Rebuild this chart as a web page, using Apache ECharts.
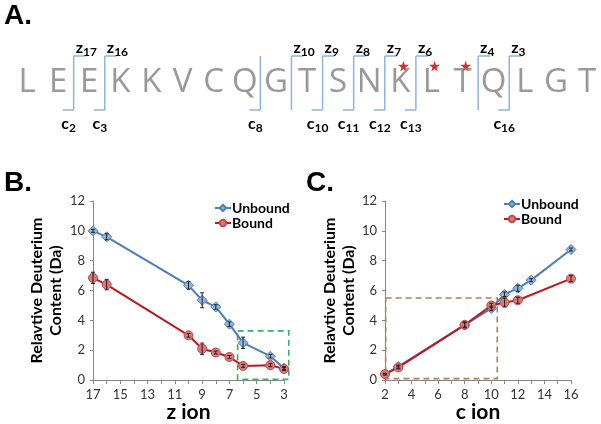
<!DOCTYPE html>
<html><head><meta charset="utf-8">
<script src="https://cdn.jsdelivr.net/npm/echarts@6/dist/echarts.min.js"></script>
<style>html,body{margin:0;padding:0;background:#fff}#c{width:601px;height:424px}</style>
</head><body><div id="c"></div>
<script>
// ---------- Panel A: peptide sequence and fragment ions ----------
const sequence = ['L','E','E','K','K','V','C','Q','G','T','S','N','K','L','T','Q','L','G','T'];
const cIons = [2,3,8,10,11,12,13,16];
const zIons = [17,16,10,9,8,7,6,4,3];
const starredResidues = [12,13,14];

// ---------- Panel B: z ions ----------
const zIonX = [17,16,10,9,8,7,6,4,3];
const zUnbound = [10.0, 9.6, 6.35, 5.35, 4.9, 3.75, 2.5, 1.6, 0.8];
const zUnboundErr = [0.1, 0.2, 0.25, 0.5, 0.15, 0.15, 0.38, 0.12, 0.1];
const zBound = [6.85, 6.4, 3.0, 2.1, 1.85, 1.55, 0.95, 1.0, 0.75];
const zBoundErr = [0.38, 0.35, 0.12, 0.38, 0.1, 0.1, 0.1, 0.1, 0.1];
const zBoxX = [6.4, 2.65];
const zBoxY = [0.05, 3.3];

// ---------- Panel C: c ions ----------
const cUnboundX = [2,3,8,10,11,12,13,16];
const cUnbound = [0.4, 0.9, 3.7, 4.8, 5.75, 6.15, 6.7, 8.75];
const cUnboundErr = [0.05, 0.1, 0.15, 0.15, 0.15, 0.2, 0.1, 0.1];
const cBoundX = [2,3,8,10,11,12,16];
const cBound = [0.4, 0.85, 3.7, 5.0, 5.2, 5.35, 6.8];
const cBoundErr = [0.05, 0.1, 0.2, 0.15, 0.3, 0.2, 0.2];
const cBoxX = [2.05, 10.45];
const cBoxY = [0.1, 5.5];

const yTicks = [0,2,4,6,8,10,12];

const FONT = 'Lato';
const BLUE = '#4a7ebb', BLUE_FILL = '#95b3d7';
const RED = '#c0161f', RED_FILL = '#d9777a', RED_EDGE = '#be4b48';

function pairs(xs, ys){ return xs.map((x,i)=>[x, ys[i]]); }

function errSeries(xs, ys, es, ai){
  return {
    type:'custom', xAxisIndex:ai, yAxisIndex:ai, z:6, silent:true, clip:false,
    data: xs.map((x,i)=>[x, ys[i], es[i]]),
    renderItem(params, api){
      const x=api.value(0), y=api.value(1), e=api.value(2);
      const t=api.coord([x,y+e]), b=api.coord([x,y-e]);
      const w=2;
      const st={stroke:'#222', lineWidth:1};
      return {type:'group', children:[
        {type:'line', shape:{x1:t[0],y1:t[1],x2:b[0],y2:b[1]}, style:st},
        {type:'line', shape:{x1:t[0]-w,y1:t[1],x2:t[0]+w,y2:t[1]}, style:st},
        {type:'line', shape:{x1:b[0]-w,y1:b[1],x2:b[0]+w,y2:b[1]}, style:st}
      ]};
    }
  };
}

function boxSeries(bx, by, color, ai){
  return {
    type:'custom', xAxisIndex:ai, yAxisIndex:ai, silent:true, clip:false, z:2,
    data:[[bx[0], by[0], bx[1], by[1]]],
    renderItem(params, api){
      const a=api.coord([api.value(0), api.value(1)]);
      const b=api.coord([api.value(2), api.value(3)]);
      const x=Math.min(a[0],b[0]), y=Math.min(a[1],b[1]);
      return {type:'rect', shape:{x:x, y:y, width:Math.abs(b[0]-a[0]), height:Math.abs(b[1]-a[1])},
        style:{fill:null, stroke:color, lineWidth:1.6, lineDash:[6,4]}};
    }
  };
}

function lineSeries(name, xs, ys, ai, kind){
  const isU = kind==='u';
  return {
    name:name, type:'line', xAxisIndex:ai, yAxisIndex:ai, z: isU?3:4,
    data: pairs(xs, ys),
    symbol: isU?'diamond':'circle', symbolSize: isU?10:9,
    lineStyle:{color: isU?BLUE:RED, width:2},
    itemStyle:{color: isU?BLUE_FILL:RED_FILL, borderColor: isU?BLUE:RED_EDGE, borderWidth:1}
  };
}

function xAxisCfg(ai, min, max, odd, name){
  return {
    type:'value', gridIndex:ai, min:min, max:max, interval:1, inverse: odd,
    name:name, nameLocation:'middle', nameGap:20,
    nameTextStyle:{fontFamily:FONT, fontWeight:'bold', fontSize:21, color:'#000'},
    axisLine:{show:true, onZero:false, lineStyle:{color:'#868686', width:1}},
    axisTick:{show:true, length:4, lineStyle:{color:'#868686'}},
    splitLine:{show:false},
    axisLabel:{fontFamily:FONT, fontSize:13, color:'#333', margin:8,
      formatter: v => ((odd ? v%2===1 : v%2===0) ? String(v) : '')}
  };
}
function yAxisCfg(ai, gap){
  return {
    type:'value', gridIndex:ai, min:yTicks[0], max:yTicks[yTicks.length-1], interval:2,
    name:'Relavtive Deuterium\nContent (Da)', nameLocation:'middle', nameRotate:90, nameGap:gap,
    nameTextStyle:{fontFamily:FONT, fontWeight:'bold', fontSize:16, lineHeight:19, color:'#000', align:'center'},
    axisLine:{show:true, lineStyle:{color:'#868686', width:1}},
    axisTick:{show:true, length:3, lineStyle:{color:'#868686'}},
    splitLine:{show:false},
    axisLabel:{fontFamily:FONT, fontSize:13, color:'#333', margin:8}
  };
}

// bracket sites
const siteMap = {};
cIons.forEach(n=>{ const s=n-0.5; (siteMap[s]=siteMap[s]||{}).c=n; });
zIons.forEach(n=>{ const s=sequence.length-n-0.5; (siteMap[s]=siteMap[s]||{}).z=n; });
const sites = Object.keys(siteMap).map(k=>[+k, siteMap[k].z||0, siteMap[k].c||0]);

const richIon = {
  m:{fontFamily:FONT, fontWeight:'bold', fontSize:16, color:'#111', lineHeight:20, verticalAlign:'middle'},
  s:{fontFamily:FONT, fontWeight:'bold', fontSize:12, color:'#111', lineHeight:12, verticalAlign:'bottom', padding:[9,0,0,0]}
};

const legendText = {fontFamily:FONT, fontWeight:'bold', fontSize:14, color:'#000', lineHeight:14, padding:[0,0,0,-4]};

const option = {
  animation:false,
  backgroundColor:'#fff',
  grid:[
    {left:93, top:201, width:191, height:180},
    {left:385, top:201, width:186, height:180},
    {left:27, top:40, width:560, height:100}
  ],
  xAxis:[
    xAxisCfg(0, 3, 17, true, 'z ion'),
    xAxisCfg(1, 2, 16, false, 'c ion'),
    {type:'value', gridIndex:2, min:0, max:sequence.length-1, show:false}
  ],
  yAxis:[
    yAxisCfg(0, 28),
    yAxisCfg(1, 25),
    {type:'value', gridIndex:2, min:0, max:100, inverse:true, show:false}
  ],
  legend:[
    {data:['Unbound','Bound'], orient:'vertical', left:214, top:201, padding:0, itemWidth:16, itemHeight:8, itemGap:1,
      textStyle:legendText, selectedMode:false},
    {data:['Unbound','Bound'], orient:'vertical', left:503, top:197, padding:0, itemWidth:16, itemHeight:8, itemGap:1,
      textStyle:legendText, selectedMode:false}
  ],
  graphic:[
    {type:'text', style:{x:4, y:16, text:'A.', font:'bold 28px "Liberation Sans"', fill:'#000', verticalAlign:'middle'}},
    {type:'text', style:{x:4, y:183, text:'B.', font:'bold 28px "Liberation Sans"', fill:'#000', verticalAlign:'middle'}},
    {type:'text', style:{x:306, y:183, text:'C.', font:'bold 28px "Liberation Sans"', fill:'#000', verticalAlign:'middle'}}
  ],
  series:[
    boxSeries(zBoxX, zBoxY, '#3daa6e', 0),
    lineSeries('Unbound', zIonX, zUnbound, 0, 'u'),
    lineSeries('Bound', zIonX, zBound, 0, 'b'),
    errSeries(zIonX, zUnbound, zUnboundErr, 0),
    errSeries(zIonX, zBound, zBoundErr, 0),

    boxSeries(cBoxX, cBoxY, '#a9835a', 1),
    lineSeries('Unbound', cUnboundX, cUnbound, 1, 'u'),
    lineSeries('Bound', cBoundX, cBound, 1, 'b'),
    errSeries(cUnboundX, cUnbound, cUnboundErr, 1),
    errSeries(cBoundX, cBound, cBoundErr, 1),

    // Panel A letters
    {type:'scatter', xAxisIndex:2, yAxisIndex:2, silent:true, symbolSize:1, itemStyle:{color:'rgba(0,0,0,0)'},
      data: sequence.map((s,i)=>({value:[i,43], name:s})),
      label:{show:true, position:'inside', formatter:'{b}', fontFamily:'Open Sans', fontSize:33, color:'#7f7f7f'}},
    // stars
    {type:'scatter', xAxisIndex:2, yAxisIndex:2, silent:true, symbolSize:11,
      symbol:'path://M50,0 L61,35 L98,35 L68,57 L79,91 L50,70 L21,91 L32,57 L2,35 L39,35 Z',
      itemStyle:{color:'#c00000'}, data: starredResidues.map(i=>[i+0.1, 26])},
    // brackets and ion labels
    {type:'custom', xAxisIndex:2, yAxisIndex:2, silent:true, clip:false,
      data: sites,
      renderItem(params, api){
        const x=api.value(0), zn=api.value(1), cn=api.value(2);
        const p=api.coord([x,16]), q=api.coord([x,70]);
        const st={stroke:'#8db3e2', lineWidth:1.5};
        const ch=[{type:'line', shape:{x1:p[0],y1:p[1],x2:q[0],y2:q[1]}, style:st}];
        if(zn){
          ch.push({type:'line', shape:{x1:p[0],y1:p[1],x2:p[0]+12,y2:p[1]}, style:st});
          ch.push({type:'text', x:p[0]+2, y:api.coord([x,8])[1],
            style:{text:'{m|z}{s|'+zn+'}', rich:richIon, align:'left', verticalAlign:'middle'}});
        }
        if(cn){
          ch.push({type:'line', shape:{x1:q[0]-11,y1:q[1],x2:q[0],y2:q[1]}, style:st});
          ch.push({type:'text', x:q[0]-5, y:api.coord([x,84])[1],
            style:{text:'{m|c}{s|'+cn+'}', rich:richIon, align:'center', verticalAlign:'middle'}});
        }
        return {type:'group', children:ch};
      }}
  ]
};

const chart = echarts.init(document.getElementById('c'), null, {renderer:'canvas'});
chart.setOption(option);
</script>
</body></html>
